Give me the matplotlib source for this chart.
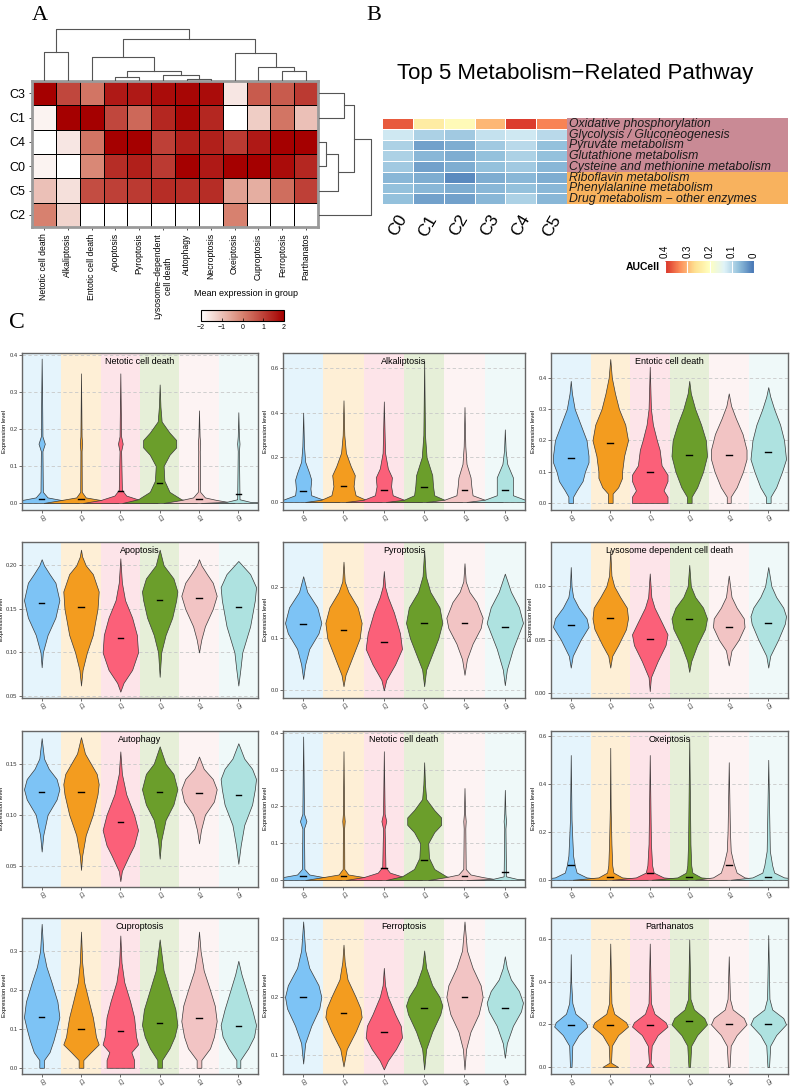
import matplotlib
matplotlib.use("Agg")
import matplotlib.pyplot as plt
import numpy as np
from matplotlib.colors import LinearSegmentedColormap, Normalize
from matplotlib.cm import ScalarMappable

W, H = 791, 1088
plt.rcParams['font.family'] = ['Liberation Sans', 'DejaVu Sans']

# ---------------- panel A data ----------------
death_types = ["Netotic cell death", "Alkaliptosis", "Entotic cell death", "Apoptosis",
               "Pyroptosis", "Lysosome\u2212dependent\ncell death", "Autophagy", "Necroptosis",
               "Oxeiptosis", "Cuproptosis", "Ferroptosis", "Parthanatos"]
a_rows = ["C3", "C1", "C4", "C0", "C5", "C2"]
a_values = [
    [2.0, 0.9, 0.2, 1.6, 1.6, 1.8, 1.9, 1.8, -1.6, 0.6, 0.6, 1.1],
    [-1.8, 2.0, 2.0, 0.9, 0.4, 1.4, 1.9, 1.4, -2.0, -1.2, 0.2, -1.0],
    [-2.0, -1.6, 0.2, 2.0, 2.0, 1.0, 1.5, 1.5, 1.1, 1.6, 2.0, 2.0],
    [-1.8, -2.0, -0.1, 1.3, 1.5, 1.1, 2.0, 1.6, 2.0, 2.0, 1.8, 1.4],
    [-1.0, -1.5, 0.8, 1.0, 1.1, 1.3, 1.3, 1.3, -0.5, -0.7, 0.3, 1.0],
    [0.0, -1.3, -2.0, -2.0, -2.0, -2.0, -2.0, -2.0, 0.0, -2.0, -2.0, -2.0],
]
# dendrogram merges (left, right, height)
col_merges = [(3, 4, 4), (6, 7, 2), (5, 13, 6), (12, 14, 10), (2, 15, 24), (0, 1, 29),
              (10, 11, 10), (9, 18, 14), (8, 19, 28), (16, 20, 42), (17, 21, 52)]
row_merges = [(0, 1, 25), (2, 3, 7), (7, 4, 19), (6, 8, 35), (9, 5, 52)]

# ---------------- panel B data ----------------
b_pathways = ["Oxidative phosphorylation", "Glycolysis / Gluconeogenesis", "Pyruvate metabolism",
              "Glutathione metabolism", "Cysteine and methionine metabolism", "Riboflavin metabolism",
              "Phenylalanine metabolism", "Drug metabolism \u2212 other enzymes"]
b_clusters = ["C0", "C1", "C2", "C3", "C4", "C5"]
b_values = [
    [0.37, 0.24, 0.21, 0.30, 0.39, 0.34],
    [0.12, 0.09, 0.08, 0.11, 0.12, 0.10],
    [0.09, 0.04, 0.05, 0.08, 0.10, 0.07],
    [0.09, 0.06, 0.05, 0.07, 0.09, 0.07],
    [0.08, 0.04, 0.05, 0.07, 0.08, 0.06],
    [0.06, 0.05, 0.02, 0.05, 0.06, 0.05],
    [0.07, 0.06, 0.05, 0.06, 0.07, 0.06],
    [0.07, 0.04, 0.04, 0.06, 0.09, 0.06],
]
b_group = [0, 0, 0, 0, 0, 1, 1, 1]

# ---------------- panel C data: violin profiles (y, relative half width) ----------------
clusters = ["C0", "C1", "C2", "C3", "C4", "C5"]

netotic_shape = [
    [(0, 0.95), (0.008, 0.5), (0.015, 0.15), (0.03, 0.03), (0.14, 0.02), (0.16, 0.08), (0.18, 0.02), (0.3, 0.01), (0.39, 0)],
    [(0, 0.95), (0.008, 0.5), (0.015, 0.12), (0.03, 0.02), (0.14, 0.015), (0.16, 0.03), (0.18, 0.015), (0.35, 0)],
    [(0, 0.95), (0.008, 0.5), (0.02, 0.15), (0.035, 0.04), (0.14, 0.02), (0.16, 0.06), (0.18, 0.02), (0.35, 0)],
    [(0, 0.95), (0.01, 0.55), (0.03, 0.25), (0.06, 0.12), (0.1, 0.1), (0.13, 0.25), (0.15, 0.42), (0.17, 0.42), (0.19, 0.25), (0.22, 0.05), (0.26, 0.02), (0.32, 0)],
    [(0, 0.9), (0.008, 0.45), (0.015, 0.15), (0.03, 0.03), (0.14, 0.02), (0.16, 0.03), (0.18, 0.015), (0.25, 0)],
    [(0, 0.95), (0.003, 0.3), (0.01, 0.03), (0.14, 0.015), (0.16, 0.03), (0.18, 0.015), (0.245, 0)],
]
netotic_median = [0.010, 0.010, 0.033, 0.055, 0.012, 0.023]

alkali_shape = [
    [(0, 0.9), (0.01, 0.5), (0.03, 0.2), (0.06, 0.18), (0.1, 0.2), (0.13, 0.15), (0.18, 0.05), (0.25, 0.02), (0.4, 0)],
    [(0, 0.95), (0.01, 0.55), (0.03, 0.3), (0.07, 0.25), (0.12, 0.28), (0.16, 0.18), (0.22, 0.06), (0.3, 0.02), (0.455, 0)],
    [(0, 0.95), (0.01, 0.5), (0.03, 0.22), (0.07, 0.18), (0.11, 0.2), (0.15, 0.1), (0.22, 0.03), (0.45, 0)],
    [(0, 0.95), (0.01, 0.5), (0.03, 0.25), (0.07, 0.22), (0.12, 0.2), (0.2, 0.06), (0.3, 0.02), (0.635, 0)],
    [(0, 0.95), (0.01, 0.5), (0.03, 0.2), (0.07, 0.17), (0.11, 0.15), (0.17, 0.05), (0.25, 0.02), (0.425, 0)],
    [(0, 0.95), (0.01, 0.5), (0.03, 0.2), (0.07, 0.2), (0.11, 0.2), (0.17, 0.06), (0.23, 0.02), (0.325, 0)],
]
alkali_median = [0.050, 0.070, 0.052, 0.065, 0.052, 0.052]

entotic_shape = [
    [(0, 0.06), (0.02, 0.06), (0.04, 0.15), (0.07, 0.3), (0.1, 0.36), (0.13, 0.45), (0.15, 0.45), (0.2, 0.4), (0.25, 0.25), (0.3, 0.1), (0.35, 0.03), (0.39, 0)],
    [(0, 0.06), (0.03, 0.06), (0.05, 0.2), (0.08, 0.3), (0.1, 0.3), (0.15, 0.35), (0.2, 0.45), (0.25, 0.38), (0.3, 0.22), (0.35, 0.12), (0.4, 0.04), (0.46, 0)],
    [(0, 0.45), (0.02, 0.45), (0.04, 0.35), (0.07, 0.45), (0.09, 0.45), (0.12, 0.3), (0.17, 0.25), (0.2, 0.18), (0.25, 0.08), (0.3, 0.03), (0.435, 0)],
    [(0, 0.06), (0.02, 0.06), (0.05, 0.2), (0.1, 0.35), (0.15, 0.45), (0.2, 0.42), (0.25, 0.3), (0.3, 0.15), (0.35, 0.04), (0.39, 0)],
    [(0, 0.05), (0.02, 0.05), (0.05, 0.2), (0.1, 0.36), (0.14, 0.45), (0.17, 0.45), (0.22, 0.35), (0.27, 0.18), (0.31, 0.06), (0.35, 0)],
    [(0, 0.06), (0.02, 0.06), (0.05, 0.2), (0.1, 0.35), (0.14, 0.45), (0.2, 0.4), (0.25, 0.3), (0.3, 0.15), (0.34, 0.05), (0.37, 0)],
]
entotic_median = [0.145, 0.190, 0.100, 0.153, 0.152, 0.162]

apoptosis_shape = [
    [(0.083, 0), (0.1, 0.03), (0.12, 0.15), (0.14, 0.35), (0.16, 0.45), (0.18, 0.35), (0.19, 0.2), (0.2, 0.06), (0.207, 0)],
    [(0.062, 0), (0.08, 0.04), (0.1, 0.15), (0.12, 0.3), (0.15, 0.42), (0.17, 0.45), (0.19, 0.3), (0.2, 0.12), (0.21, 0.03), (0.218, 0)],
    [(0.055, 0), (0.065, 0.08), (0.08, 0.3), (0.1, 0.45), (0.12, 0.42), (0.14, 0.3), (0.16, 0.12), (0.18, 0.04), (0.208, 0)],
    [(0.072, 0), (0.1, 0.04), (0.12, 0.15), (0.14, 0.32), (0.16, 0.42), (0.17, 0.45), (0.185, 0.35), (0.2, 0.1), (0.218, 0)],
    [(0.1, 0), (0.115, 0.06), (0.13, 0.15), (0.15, 0.35), (0.165, 0.45), (0.18, 0.35), (0.19, 0.2), (0.2, 0.06), (0.207, 0)],
    [(0.062, 0), (0.08, 0.05), (0.1, 0.1), (0.13, 0.3), (0.16, 0.42), (0.175, 0.45), (0.19, 0.3), (0.2, 0.1), (0.205, 0)],
]
apoptosis_median = [0.157, 0.152, 0.117, 0.160, 0.162, 0.152]

pyroptosis_shape = [
    [(0.022, 0), (0.05, 0.05), (0.08, 0.15), (0.11, 0.38), (0.13, 0.45), (0.16, 0.35), (0.19, 0.1), (0.22, 0)],
    [(0.008, 0), (0.03, 0.05), (0.06, 0.2), (0.1, 0.4), (0.13, 0.45), (0.16, 0.35), (0.19, 0.12), (0.21, 0.03), (0.248, 0)],
    [(0.0, 0), (0.02, 0.06), (0.05, 0.28), (0.08, 0.45), (0.11, 0.4), (0.15, 0.25), (0.18, 0.1), (0.2, 0.03), (0.23, 0)],
    [(0.008, 0), (0.04, 0.05), (0.07, 0.2), (0.1, 0.35), (0.13, 0.45), (0.16, 0.38), (0.19, 0.15), (0.22, 0.04), (0.27, 0)],
    [(0.03, 0), (0.06, 0.06), (0.09, 0.2), (0.12, 0.4), (0.14, 0.45), (0.17, 0.3), (0.19, 0.12), (0.21, 0.03), (0.245, 0)],
    [(0.01, 0), (0.04, 0.05), (0.08, 0.2), (0.11, 0.35), (0.13, 0.45), (0.16, 0.35), (0.19, 0.15), (0.225, 0)],
]
pyroptosis_median = [0.128, 0.117, 0.093, 0.129, 0.130, 0.123]

lysosome_shape = [
    [(0.024, 0), (0.035, 0.05), (0.05, 0.25), (0.062, 0.45), (0.07, 0.4), (0.08, 0.2), (0.09, 0.06), (0.1, 0.02), (0.118, 0)],
    [(0.024, 0), (0.035, 0.05), (0.045, 0.2), (0.06, 0.4), (0.07, 0.45), (0.08, 0.42), (0.09, 0.25), (0.1, 0.1), (0.11, 0.03), (0.134, 0)],
    [(0.002, 0), (0.015, 0.03), (0.03, 0.2), (0.045, 0.4), (0.055, 0.45), (0.065, 0.32), (0.08, 0.12), (0.09, 0.04), (0.112, 0)],
    [(0.02, 0), (0.03, 0.05), (0.045, 0.2), (0.06, 0.4), (0.07, 0.45), (0.08, 0.35), (0.09, 0.15), (0.1, 0.04), (0.12, 0)],
    [(0.026, 0), (0.04, 0.07), (0.05, 0.25), (0.062, 0.4), (0.07, 0.38), (0.08, 0.2), (0.09, 0.07), (0.11, 0)],
    [(0.024, 0), (0.035, 0.05), (0.05, 0.25), (0.065, 0.42), (0.072, 0.45), (0.08, 0.38), (0.09, 0.2), (0.1, 0.08), (0.118, 0)],
]
lysosome_median = [0.064, 0.070, 0.051, 0.069, 0.062, 0.066]

autophagy_shape = [
    [(0.064, 0), (0.08, 0.04), (0.1, 0.15), (0.115, 0.38), (0.125, 0.45), (0.135, 0.38), (0.145, 0.18), (0.155, 0.06), (0.175, 0)],
    [(0.046, 0), (0.06, 0.03), (0.08, 0.12), (0.1, 0.3), (0.12, 0.42), (0.13, 0.45), (0.14, 0.4), (0.15, 0.25), (0.16, 0.1), (0.176, 0)],
    [(0.035, 0), (0.045, 0.04), (0.06, 0.22), (0.07, 0.35), (0.085, 0.45), (0.1, 0.35), (0.12, 0.15), (0.14, 0.04), (0.162, 0)],
    [(0.057, 0), (0.075, 0.04), (0.095, 0.15), (0.11, 0.35), (0.125, 0.45), (0.14, 0.35), (0.15, 0.15), (0.167, 0)],
    [(0.072, 0), (0.085, 0.05), (0.1, 0.15), (0.113, 0.38), (0.125, 0.45), (0.135, 0.35), (0.145, 0.12), (0.157, 0)],
    [(0.052, 0), (0.07, 0.06), (0.09, 0.15), (0.11, 0.35), (0.125, 0.42), (0.135, 0.45), (0.145, 0.35), (0.155, 0.15), (0.17, 0)],
]
autophagy_median = [0.122, 0.122, 0.093, 0.122, 0.121, 0.119]

oxeiptosis_shape = [
    [(0, 0.9), (0.01, 0.4), (0.03, 0.15), (0.06, 0.1), (0.1, 0.06), (0.17, 0.04), (0.25, 0.02), (0.52, 0)],
    [(0, 0.95), (0.01, 0.3), (0.03, 0.08), (0.06, 0.05), (0.15, 0.03), (0.3, 0.01), (0.55, 0)],
    [(0, 0.95), (0.01, 0.35), (0.03, 0.1), (0.06, 0.06), (0.15, 0.03), (0.52, 0)],
    [(0, 0.95), (0.01, 0.3), (0.03, 0.08), (0.06, 0.05), (0.15, 0.03), (0.59, 0)],
    [(0, 0.85), (0.01, 0.4), (0.03, 0.2), (0.07, 0.12), (0.12, 0.05), (0.2, 0.03), (0.49, 0)],
    [(0, 0.95), (0.01, 0.4), (0.03, 0.15), (0.06, 0.1), (0.12, 0.04), (0.5, 0)],
]
oxeiptosis_median = [0.060, 0.010, 0.030, 0.010, 0.060, 0.010]

cuproptosis_shape = [
    [(0, 0.06), (0.02, 0.06), (0.04, 0.2), (0.07, 0.3), (0.1, 0.38), (0.13, 0.45), (0.17, 0.4), (0.22, 0.25), (0.26, 0.12), (0.3, 0.04), (0.37, 0)],
    [(0, 0.06), (0.02, 0.06), (0.04, 0.25), (0.06, 0.45), (0.08, 0.38), (0.1, 0.35), (0.13, 0.3), (0.17, 0.2), (0.22, 0.08), (0.27, 0.03), (0.35, 0)],
    [(0, 0.35), (0.02, 0.35), (0.04, 0.28), (0.06, 0.45), (0.08, 0.4), (0.1, 0.38), (0.13, 0.35), (0.17, 0.25), (0.22, 0.1), (0.27, 0.03), (0.34, 0)],
    [(0, 0.06), (0.02, 0.06), (0.05, 0.25), (0.08, 0.38), (0.11, 0.45), (0.15, 0.4), (0.2, 0.25), (0.25, 0.1), (0.33, 0)],
    [(0, 0.06), (0.02, 0.06), (0.05, 0.28), (0.08, 0.38), (0.12, 0.45), (0.16, 0.4), (0.2, 0.28), (0.25, 0.12), (0.3, 0.04), (0.35, 0)],
    [(0, 0.05), (0.02, 0.05), (0.05, 0.25), (0.08, 0.4), (0.11, 0.45), (0.15, 0.35), (0.2, 0.2), (0.24, 0.08), (0.275, 0)],
]
cuproptosis_median = [0.130, 0.099, 0.094, 0.115, 0.128, 0.107]

ferroptosis_shape = [
    [(0.085, 0), (0.12, 0.05), (0.15, 0.2), (0.18, 0.4), (0.2, 0.45), (0.22, 0.38), (0.25, 0.15), (0.28, 0.05), (0.33, 0)],
    [(0.08, 0), (0.11, 0.08), (0.14, 0.3), (0.165, 0.45), (0.18, 0.42), (0.2, 0.3), (0.23, 0.1), (0.26, 0.03), (0.29, 0)],
    [(0.075, 0), (0.09, 0.1), (0.11, 0.3), (0.13, 0.45), (0.15, 0.42), (0.17, 0.28), (0.2, 0.1), (0.22, 0.03), (0.25, 0)],
    [(0.075, 0), (0.11, 0.05), (0.14, 0.2), (0.17, 0.4), (0.185, 0.45), (0.2, 0.38), (0.22, 0.2), (0.25, 0.05), (0.28, 0)],
    [(0.075, 0), (0.11, 0.04), (0.14, 0.15), (0.17, 0.35), (0.2, 0.45), (0.22, 0.4), (0.25, 0.2), (0.28, 0.06), (0.33, 0)],
    [(0.095, 0), (0.12, 0.05), (0.15, 0.2), (0.175, 0.4), (0.19, 0.45), (0.21, 0.35), (0.23, 0.15), (0.25, 0.05), (0.27, 0)],
]
ferroptosis_median = [0.200, 0.172, 0.140, 0.180, 0.200, 0.180]

parthanatos_shape = [
    [(0.0, 0.02), (0.1, 0.04), (0.15, 0.2), (0.19, 0.42), (0.21, 0.38), (0.25, 0.12), (0.3, 0.04), (0.4, 0.01), (0.53, 0)],
    [(0.0, 0.2), (0.02, 0.02), (0.1, 0.04), (0.15, 0.2), (0.19, 0.45), (0.21, 0.4), (0.25, 0.1), (0.3, 0.03), (0.58, 0)],
    [(0.0, 0.1), (0.02, 0.02), (0.1, 0.05), (0.15, 0.2), (0.19, 0.45), (0.21, 0.4), (0.25, 0.12), (0.3, 0.03), (0.58, 0)],
    [(0.0, 0.02), (0.1, 0.05), (0.15, 0.2), (0.2, 0.45), (0.23, 0.38), (0.27, 0.12), (0.32, 0.03), (0.6, 0)],
    [(0.0, 0.02), (0.1, 0.05), (0.15, 0.2), (0.2, 0.45), (0.23, 0.38), (0.27, 0.1), (0.32, 0.03), (0.52, 0)],
    [(0.0, 0.02), (0.1, 0.05), (0.15, 0.2), (0.2, 0.45), (0.23, 0.38), (0.27, 0.1), (0.32, 0.03), (0.62, 0)],
]
parthanatos_median = [0.195, 0.195, 0.195, 0.215, 0.200, 0.200]

# ---------------- figure ----------------
fig = plt.figure(figsize=(W / 100, H / 100), dpi=100)


def px_axes(x0, y0, x1, y1):
    return fig.add_axes([x0 / W, 1 - y1 / H, (x1 - x0) / W, (y1 - y0) / H])


def draw_dendro(ax, merges, n, top):
    pos = {i: i + 0.5 for i in range(n)}
    hgt = {i: 0.0 for i in range(n)}
    for k, (a, b, h) in enumerate(merges):
        xs = [pos[a], pos[a], pos[b], pos[b]]
        ys = [hgt[a], h, h, hgt[b]]
        if top:
            ax.plot(xs, ys, color='#555555', lw=0.8)
        else:
            ax.plot(ys, xs, color='#555555', lw=0.8)
        pos[n + k] = (pos[a] + pos[b]) / 2
        hgt[n + k] = h
    ax.axis('off')


# panel letters
fig.text(40 / W, 1 - 15 / H, "A", family='Liberation Serif', fontsize=16, ha='center', va='center')
fig.text(374 / W, 1 - 15 / H, "B", family='Liberation Serif', fontsize=16, ha='center', va='center')
fig.text(17 / W, 1 - 322 / H, "C", family='Liberation Serif', fontsize=17, ha='center', va='center')

# ---- A heatmap ----
reds = LinearSegmentedColormap.from_list('reds', ['#FFFFFF', '#D7826F', '#A50000'])
axA = px_axes(32, 81, 318, 227)
vals = np.array(a_values)
axA.pcolormesh(np.arange(len(death_types) + 1), np.arange(len(a_rows) + 1), vals,
               cmap=reds, vmin=-2, vmax=2, edgecolors='black', linewidth=0.6)
axA.set_xlim(0, len(death_types))
axA.set_ylim(len(a_rows), 0)
axA.set_xticks(np.arange(len(death_types)) + 0.5)
axA.set_xticklabels(death_types, rotation=90, fontsize=6.2, ha='center', va='top',
                    multialignment='center')
axA.set_yticks(np.arange(len(a_rows)) + 0.5)
axA.set_yticklabels(a_rows, fontsize=9)
axA.tick_params(length=2.5, width=0.6, color='#333333', pad=2)
for s in axA.spines.values():
    s.set_color('#9a9a9a')
    s.set_linewidth(2)

axDt = px_axes(32, 26, 318, 81)
axDt.set_xlim(0, len(death_types))
axDt.set_ylim(0, 55)
draw_dendro(axDt, col_merges, len(death_types), True)

axDr = px_axes(319, 81, 374, 227)
axDr.set_ylim(len(a_rows), 0)
axDr.set_xlim(0, 55)
draw_dendro(axDr, row_merges, len(a_rows), False)

fig.text(246 / W, 1 - 293 / H, "Mean expression in group", fontsize=6.5, ha='center', va='center')
caxA = px_axes(201, 310, 284, 321)
cbA = fig.colorbar(ScalarMappable(norm=Normalize(-2, 2), cmap=reds), cax=caxA, orientation='horizontal')
cbA.set_ticks([-2, -1, 0, 1, 2])
cbA.ax.tick_params(labelsize=5, length=2, width=0.5, direction='in', pad=2)
cbA.outline.set_linewidth(0.8)

# ---- B heatmap ----
rdylbu = LinearSegmentedColormap.from_list(
    'rdylbu7', ['#4575B4', '#91BFDB', '#E0F3F8', '#FFFFBF', '#FEE090', '#FC8D59', '#D73027'])
fig.text(575 / W, 1 - 74 / H, "Top 5 Metabolism\u2212Related Pathway", fontsize=16, ha='center', va='center')
axB = px_axes(382, 118, 567, 204)
axB.pcolormesh(np.arange(len(b_clusters) + 1), np.arange(len(b_pathways) + 1), np.array(b_values),
               cmap=rdylbu, vmin=0, vmax=0.4, edgecolors='white', linewidth=0.7)
axB.set_xlim(0, len(b_clusters))
axB.set_ylim(len(b_pathways), 0)
axB.set_yticks([])
axB.set_xticks(np.arange(len(b_clusters)) + 0.5)
axB.set_xticklabels(b_clusters, rotation=60, fontsize=12.5, ha='center', va='top')
axB.tick_params(length=0, pad=6)
for s in axB.spines.values():
    s.set_visible(False)

group_colors = ['#C98A95', '#F8B25E']
axL = px_axes(567, 118, 788, 204)
axL.barh(np.arange(len(b_pathways)) + 0.5, 1, height=1.0, left=0,
         color=[group_colors[g] for g in b_group])
for i, name in enumerate(b_pathways):
    axL.text(0.01, i + 0.55, name, fontsize=8.8, style='italic', ha='left', va='center', color='#1a1a1a')
axL.set_xlim(0, 1)
axL.set_ylim(len(b_pathways), 0)
axL.axis('off')

fig.text(660 / W, 1 - 267 / H, "AUCell", fontsize=7.5, fontweight='bold', ha='right', va='center')
caxB = px_axes(665, 261, 754, 273)
cbB = fig.colorbar(ScalarMappable(norm=Normalize(0, 0.4), cmap=rdylbu), cax=caxB, orientation='horizontal')
cbB.ax.invert_xaxis()
cbB.set_ticks([0.4, 0.3, 0.2, 0.1, 0.0])
cbB.set_ticklabels(["0.4", "0.3", "0.2", "0.1", "0"])
cbB.ax.xaxis.set_ticks_position('top')
cbB.ax.tick_params(labelsize=7, rotation=90, length=12, width=0.8, color='white', direction='in', pad=2)
cbB.outline.set_visible(False)

# ---- C violins ----
fill_colors = ['#7DC3F5', '#F39C1F', '#FB6079', '#6B9E2B', '#F2C4C4', '#AEE2E0']
bg_colors = ['#E5F4FC', '#FEEFD6', '#FDE4E9', '#E6EFD8', '#FDF3F3', '#EFF9F9']

panels = [
    ("Netotic cell death", netotic_shape, netotic_median, (-0.019, 0.405), [0, 0.1, 0.2, 0.3, 0.4], 1),
    ("Alkaliptosis", alkali_shape, alkali_median, (-0.036, 0.667), [0, 0.2, 0.4, 0.6], 1),
    ("Entotic cell death", entotic_shape, entotic_median, (-0.0225, 0.479), [0, 0.1, 0.2, 0.3, 0.4], 1),
    ("Apoptosis", apoptosis_shape, apoptosis_median, (0.0477, 0.2268), [0.05, 0.10, 0.15, 0.20], 2),
    ("Pyroptosis", pyroptosis_shape, pyroptosis_median, (-0.0147, 0.286), [0, 0.1, 0.2], 1),
    ("Lysosome dependent cell death", lysosome_shape, lysosome_median, (-0.0044, 0.1414), [0, 0.05, 0.10], 2),
    ("Autophagy", autophagy_shape, autophagy_median, (0.0293, 0.182), [0.05, 0.10, 0.15], 2),
    ("Netotic cell death", netotic_shape, netotic_median, (-0.019, 0.405), [0, 0.1, 0.2, 0.3, 0.4], 1),
    ("Oxeiptosis", oxeiptosis_shape, oxeiptosis_median, (-0.03, 0.62), [0, 0.2, 0.4, 0.6], 1),
    ("Cuproptosis", cuproptosis_shape, cuproptosis_median, (-0.016, 0.385), [0, 0.1, 0.2, 0.3], 1),
    ("Ferroptosis", ferroptosis_shape, ferroptosis_median, (0.067, 0.336), [0.1, 0.2, 0.3], 1),
    ("Parthanatos", parthanatos_shape, parthanatos_median, (-0.033, 0.70), [0, 0.2, 0.4, 0.6], 1),
]
col_px = [(22, 258), (283, 525), (551, 788)]
row_px = [(353, 510), (542, 698), (731, 887), (918, 1074)]

for k, (title, shapes, medians, ylim, ticks, dec) in enumerate(panels):
    r, c = divmod(k, 3)
    ax = px_axes(col_px[c][0], row_px[r][0], col_px[c][1], row_px[r][1])
    for i in range(len(clusters)):
        ax.axvspan(i - 0.5, i + 0.5, color=bg_colors[i], lw=0, zorder=0)
    for t in ticks:
        ax.axhline(t, color='#c8c8c8', lw=0.6, ls=(0, (4, 3)), zorder=0.5)
    for i, shape in enumerate(shapes):
        ys = np.array([p[0] for p in shape])
        ws = np.array([p[1] for p in shape])
        ax.fill_betweenx(ys, i - ws, i + ws, facecolor=fill_colors[i], edgecolor='#3a3a3a',
                         lw=0.5, zorder=2)
        ax.plot([i - 0.07, i + 0.07], [medians[i], medians[i]], color='black', lw=1.0, zorder=3)
    ax.set_xlim(-0.5, len(clusters) - 0.5)
    ax.set_ylim(*ylim)
    ax.set_yticks(ticks)
    ax.set_yticklabels([f"{t:.{dec}f}" for t in ticks])
    ax.set_xticks(range(len(clusters)))
    ax.set_xticklabels(clusters, rotation=-60, ha='center', va='top')
    ax.tick_params(labelsize=4.2, length=2, width=0.5, pad=1.2, colors='#333333')
    ax.set_ylabel("Expression level", fontsize=4.2, labelpad=1.5)
    ax.text(0.5, 0.975, title, transform=ax.transAxes, ha='center', va='top', fontsize=6.5, zorder=4)
    for s in ax.spines.values():
        s.set_color('#666666')
        s.set_linewidth(1.0)

fig.savefig("out.png", dpi=100)
